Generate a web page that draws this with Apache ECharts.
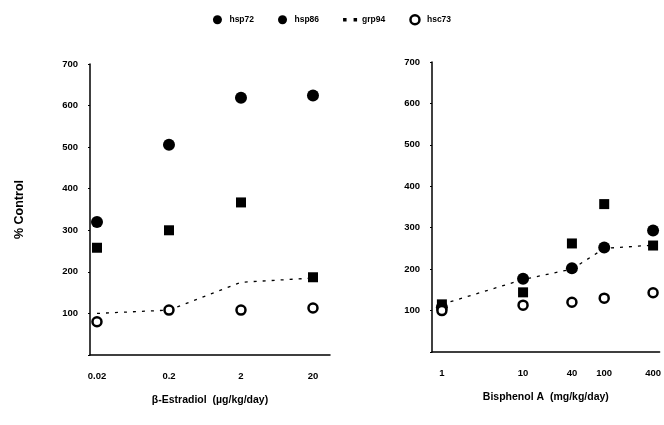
<!DOCTYPE html>
<html><head><meta charset="utf-8">
<script src="https://cdn.jsdelivr.net/npm/echarts@6/dist/echarts.min.js"></script>
<style>html,body{margin:0;padding:0;background:#fff}#c{width:664px;height:425px}</style>
</head><body><div id="c"></div>
<script>
// Left panel: beta-Estradiol doses (ug/kg/day)
const e2Doses = [0.02, 0.2, 2, 20];
const e2Labels = ["0.02", "0.2", "2", "20"];
const e2_hsp72 = [320, 506, 619, 624];
const e2_hsp86 = [258, 300, 367, 187];
const e2_grp94 = [100, 108, 175, 185];
const e2_hsc73 = [80, 108, 108, 113];
// Right panel: Bisphenol A doses (mg/kg/day)
const bpaDoses = [1, 10, 40, 100, 400];
const bpaLabels = ["1", "10", "40", "100", "400"];
const bpa_hsp72 = [108, 177, 202, 252, 293];
const bpa_hsp86 = [115, 144, 262, 357, 257];
const bpa_grp94 = [115, 175, 200, 250, 258];
const bpa_hsc73 = [100, 113, 120, 130, 143];
const yTicks = [100, 200, 300, 400, 500, 600, 700];

const lg = v => Math.log10(v);
function pts(doses, vals){ return doses.map((d,i)=>[lg(d), vals[i]]); }
function fmt(doses, labels){
  return v => { for (let i=0;i<doses.length;i++){ if (Math.abs(lg(doses[i])-v)<1e-6) return labels[i]; } return ''; };
}
const font = {fontFamily:'Liberation Sans, Arial, sans-serif', fontWeight:'bold', color:'#000'};

function xAxis(gi, doses, labels, min, max, name){
  return {
    type:'value', gridIndex:gi, min:min, max:max,
    axisLine:{show:true, onZero:false, lineStyle:{color:'#000', width:1.5}},
    axisTick:{show:false},
    splitLine:{show:false},
    axisLabel:{...font, fontSize:9.5, margin:16, customValues: doses.map(lg), formatter: fmt(doses, labels)},
    name:name, nameLocation:'middle', nameGap:40,
    nameTextStyle:{...font, fontSize:10.5}
  };
}
function yAxis(gi, withName){
  const a = {
    type:'value', gridIndex:gi, min:0, max:700, interval:100,
    axisLine:{show:true, onZero:false, lineStyle:{color:'#000', width:1.5}},
    axisTick:{show:true, length:2, lineStyle:{color:'#000'}},
    splitLine:{show:false},
    axisLabel:{...font, fontSize:9.5, margin:12, formatter: v => yTicks.includes(v) ? String(v) : ''}
  };
  if (withName){
    a.name = '% Control'; a.nameLocation='middle'; a.nameGap=64;
    a.nameTextStyle = {...font, fontSize:12.5};
  }
  return a;
}
function mk(gi, doses, a, b, c, d){
  return [
    {name:'hsp72', type:'scatter', xAxisIndex:gi, yAxisIndex:gi, data:pts(doses,a), symbol:'circle', symbolSize:12, itemStyle:{color:'#000', opacity:1}, z:4},
    {name:'hsp86', type:'scatter', xAxisIndex:gi, yAxisIndex:gi, data:pts(doses,b), symbol:'rect', symbolSize:10, itemStyle:{color:'#000', opacity:1}, z:4},
    {name:'grp94', type:'line', xAxisIndex:gi, yAxisIndex:gi, data:pts(doses,c), symbol:'none', itemStyle:{color:'#000'}, lineStyle:{color:'#000', width:1.3, type:[3,6]}, z:2},
    {name:'hsc73', type:'scatter', xAxisIndex:gi, yAxisIndex:gi, data:pts(doses,d), symbol:'circle', symbolSize:9, itemStyle:{color:'#fff', borderColor:'#000', borderWidth:2.5, opacity:1}, z:5}
  ];
}

const chart = echarts.init(document.getElementById('c'), null, {renderer:'canvas'});
chart.setOption({
  animation:false,
  backgroundColor:'#fff',
  legend:{
    top:9, left:'center', itemGap:24, itemWidth:14, itemHeight:9,
    data:[
      {name:'hsp72', icon:'circle'},
      {name:'hsp86', icon:'circle'},
      {name:'grp94', icon:'path://M0,4h3v3h-3z M9,4h3v3h-3z', itemStyle:{color:'#000'}},
      {name:'hsc73', icon:'circle', itemStyle:{color:'#fff', borderColor:'#000', borderWidth:2.5}}
    ],
    textStyle:{...font, fontSize:8.5}
  },
  grid:[
    {left:90, right:334, top:64, bottom:70},
    {left:432, right:2, top:62, bottom:73}
  ],
  xAxis:[
    xAxis(0, e2Doses, e2Labels, lg(0.02)-0.097, lg(0.02)-0.097+240/72, 'β-Estradiol  (µg/kg/day)'),
    xAxis(1, bpaDoses, bpaLabels, -0.122, -0.122+230/82, 'Bisphenol A  (mg/kg/day)')
  ],
  yAxis:[yAxis(0,true), yAxis(1,false)],
  series:[
    ...mk(0, e2Doses, e2_hsp72, e2_hsp86, e2_grp94, e2_hsc73),
    ...mk(1, bpaDoses, bpa_hsp72, bpa_hsp86, bpa_grp94, bpa_hsc73)
  ]
});
</script></body></html>
